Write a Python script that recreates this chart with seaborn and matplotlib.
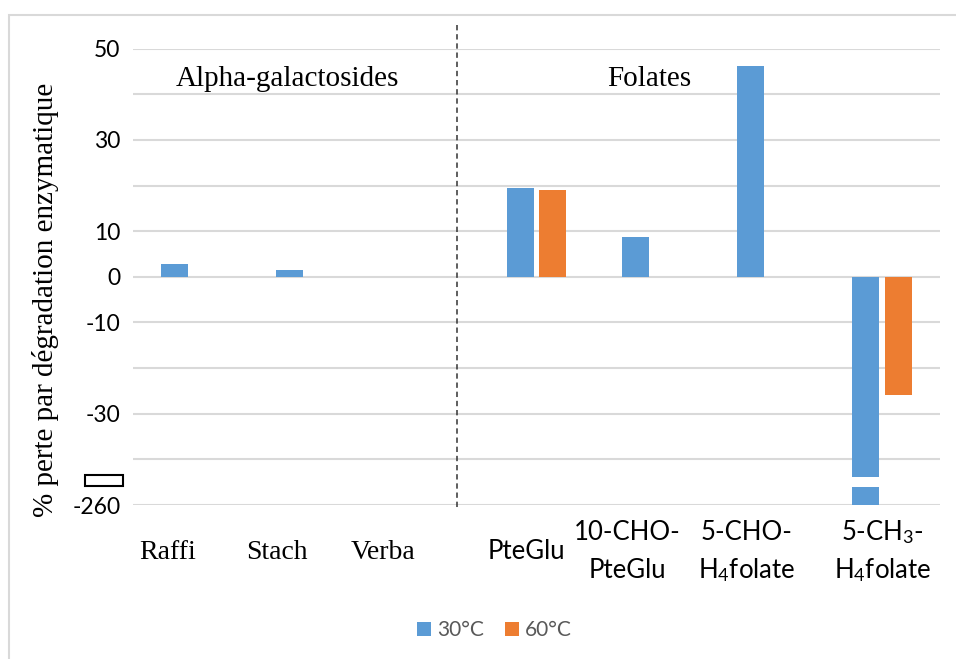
import matplotlib
matplotlib.use("Agg")
import matplotlib.pyplot as plt
import matplotlib.transforms as mtransforms
from matplotlib.patches import Rectangle
from matplotlib.lines import Line2D
import seaborn as sns
import pandas as pd

# --- data -------------------------------------------------------------
categories = ["Raffi", "Stach", "Verba", "PteGlu",
              "10-CHO-PteGlu", "5-CHO-H4folate", "5-CH3-H4folate"]
temperatures = ["30°C", "60°C"]
perte_30 = [2.8, 1.5, 0.0, 19.4, 8.8, 46.3, -260.0]
perte_60 = [0.0, 0.0, 0.0, 19.0, 0.0, 0.0, -26.0]

ytick_values = [50, 40, 30, 20, 10, 0, -10, -20, -30, -40, -260]
ytick_labels = ["50", "", "30", "", "10", "0", "-10", "", "-30", "", "-260"]

# category labels (first line, second line) drawn under the axis
label_lines = [("Raffi", None), ("Stach", None), ("Verba", None),
               ("PteGlu", None), ("10-CHO-", "PteGlu"),
               ("5-CHO-", r"H$_{\mathregular{4}}$folate"),
               (r"5-CH$_{\mathregular{3}}$-", r"H$_{\mathregular{4}}$folate")]
label_shift = [-0.196, -0.251, -0.331, -0.091, -0.215, -0.174, 0.0]

BREAK_LO, BREAK_HI = -45.0, -260.0   # values below -45 are squeezed


def to_axis(v):
    """Map a value onto the broken y axis (-260 sits at the -50 slot)."""
    if v >= BREAK_LO:
        return v
    return BREAK_LO + (v - BREAK_LO) * 5.0 / (BREAK_LO - BREAK_HI)


df = pd.DataFrame({
    "composé": categories * 2,
    "température": [temperatures[0]] * len(categories) + [temperatures[1]] * len(categories),
    "perte": perte_30 + perte_60,
})
df["affiché"] = df["perte"].map(to_axis)

# --- figure -----------------------------------------------------------
W, H = 956, 659
fig = plt.figure(figsize=(W / 100, H / 100), dpi=100)
fig.patch.set_facecolor("white")

def px(x0, y0, x1, y1):
    return [x0 / W, 1 - y1 / H, (x1 - x0) / W, (y1 - y0) / H]

ax = fig.add_axes(px(133, 48.7, 940, 505))

sns.barplot(data=df, x="composé", y="affiché", hue="température",
            order=categories, hue_order=temperatures,
            palette=["#5B9BD5", "#ED7D31"], saturation=1, width=0.57, gap=0.18,
            errorbar=None, ax=ax, zorder=3, linewidth=0)

ax.set_ylim(-50, 50)
ax.set_xlim(-0.5, len(categories) - 0.5)
ax.set_yticks([to_axis(v) for v in ytick_values])
ax.set_yticklabels(ytick_labels, fontfamily="Lato", fontsize=16.5, color="black")
ax.tick_params(axis="y", length=0, pad=9)
ax.set_xticks(range(len(categories)))
ax.set_xticklabels([""] * len(categories))
ax.tick_params(axis="x", length=0)
ax.set_xlabel("")
ax.set_ylabel("")
for s in ax.spines.values():
    s.set_visible(False)
ax.grid(axis="y", color="#D9D9D9", linewidth=1.5, zorder=0)
ax.set_axisbelow(True)

# white band that interrupts the bar at the axis break
ax.axhspan(-45.95, -43.76, color="white", zorder=4, lw=0)

# legend
handles, labels = ax.get_legend_handles_labels()
ax.get_legend().remove()
fig.legend(handles, labels, loc="center", bbox_to_anchor=(0.517, 1 - 630 / H),
           ncol=2, frameon=False, handlelength=0.68, handleheight=0.68,
           handletextpad=0.3, columnspacing=1.0,
           prop={"family": "Lato", "size": 15}, labelcolor="#595959")

# category labels
plt.rcParams["mathtext.fontset"] = "custom"
plt.rcParams["mathtext.rm"] = "Lato"
plt.rcParams["mathtext.it"] = "Lato:italic"
trans = mtransforms.blended_transform_factory(ax.transData, fig.transFigure)
for i, ((l1, l2), dx) in enumerate(zip(label_lines, label_shift)):
    serif = i < 3
    fam = "Liberation Serif" if serif else "Lato"
    size = 20 if serif else 18.5
    if l2 is None:
        fig.text(i + dx, 1 - 559 / H, l1, transform=trans, ha="center",
                 va="baseline", family=fam, fontsize=size, color="black")
    else:
        fig.text(i + dx, 1 - 540 / H, l1, transform=trans, ha="center",
                 va="baseline", family=fam, fontsize=size, color="black")
        fig.text(i + dx, 1 - 578 / H, l2, transform=trans, ha="center",
                 va="baseline", family=fam, fontsize=size, color="black")

# group titles and separator
fig.text(287 / W, 1 - 86 / H, "Alpha-galactosides", ha="center", va="baseline",
         family="Liberation Serif", fontsize=21)
fig.text(649 / W, 1 - 86 / H, "Folates", ha="center", va="baseline",
         family="Liberation Serif", fontsize=21)
sep_x = (457 - 133) / 115.3 - 0.5
fig.add_artist(Line2D([sep_x, sep_x], [1 - 25 / H, 1 - 508 / H], transform=trans,
                      color="#333333", lw=1.1, linestyle=(0, (3.5, 2.5))))

# y-axis title
fig.text(46 / W, 1 - 300 / H, "% perte par dégradation enzymatique", rotation=90,
         ha="center", va="center", family="Liberation Serif", fontsize=21)

# axis-break marker next to the tick labels
fig.add_artist(Rectangle((85 / W, 1 - 486 / H), 38 / W, 11 / H,
                         transform=fig.transFigure, facecolor="white",
                         edgecolor="black", lw=1.5))

# chart frame
fig.add_artist(Rectangle((9 / W, -0.05), 1.2, 1 - 15 / H + 0.05,
                         transform=fig.transFigure, facecolor="none",
                         edgecolor="#D9D9D9", lw=1.5))

fig.savefig("out.png", dpi=100)
